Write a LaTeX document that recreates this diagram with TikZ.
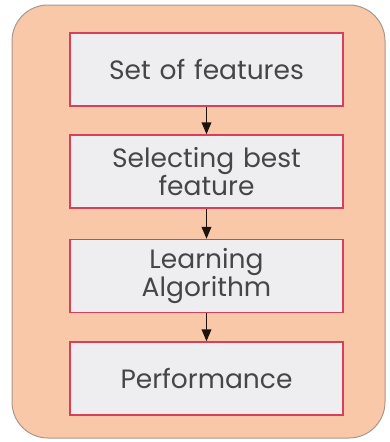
\documentclass[tikz,border=0pt]{standalone}
\usepackage{fontspec}
\setmainfont{Poppins}
\usepackage{tikz}
\usetikzlibrary{arrows}

\definecolor{peach}{RGB}{248,200,168}
\definecolor{rimgray}{RGB}{170,150,140}
\definecolor{boxred}{RGB}{214,64,90}
\definecolor{boxfill}{RGB}{238,238,241}
\definecolor{txtgray}{RGB}{70,70,70}

\begin{document}
\begin{tikzpicture}
[>=triangle 45,x=1pt,y=-1pt,
 step box/.style={draw=boxred,line width=1.6pt,fill=boxfill,
   minimum width=273pt,minimum height=73pt,text width=266pt,align=center,
   text=txtgray,font=\fontsize{26.5}{28}\selectfont},
 flow/.style={line width=1.8pt,->,black!85!brown}]

	\useasboundingbox (0,0) rectangle (389,442);
	
	\draw[rimgray,fill=peach,rounded corners=36pt,line width=1pt] (12,5) rectangle (385,438);
	
	\node[step box] (features) at (206.5,69.5) {Set of features};
	\node[step box] (select) at (206.5,171.5) {Selecting best\\feature};
	\node[step box] (learn) at (206.5,276) {Learning\\Algorithm};
	\node[step box] (perf) at (206.5,378.5) {Performance};
	
	\draw[flow] (features) -- (select);
	\draw[flow] (select) -- (learn);
	\draw[flow] (learn) -- (perf);
\end{tikzpicture}
\end{document}
